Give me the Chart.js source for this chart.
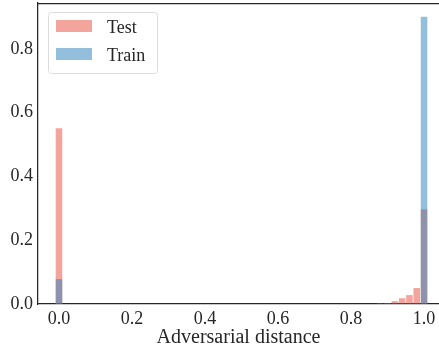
<!DOCTYPE html>
<html>
<head>
<meta charset="utf-8">
<script src="https://cdn.jsdelivr.net/npm/chart.js@4.4.1/dist/chart.umd.min.js"></script>
<style>
html,body{margin:0;padding:0;background:#fff;overflow:hidden;}
#c{display:block;}
</style>
</head>
<body>
<canvas id="c" width="439" height="350"></canvas>
<script>
// Histogram bins (bin centres, width 0.02); only non-empty bins listed
const binCenters = [0.00, 0.88, 0.90, 0.92, 0.94, 0.96, 0.98, 1.00];
const testValues = [0.551, 0.002, 0.003, 0.009, 0.018, 0.028, 0.050, 0.297];
const trainValues = [0.078, 0, 0, 0, 0, 0, 0, 0.901];
const xTickValues = [0.0, 0.2, 0.4, 0.6, 0.8, 1.0];
const yTickValues = [0.0, 0.2, 0.4, 0.6, 0.8];
const seriesNames = ['Test', 'Train'];
const xTitle = 'Adversarial distance';

const FONT = "'Liberation Serif', serif";
const TEXT = '#262626';
const testColor = 'rgba(231,76,60,0.5)';
const trainColor = 'rgba(41,128,185,0.5)';

const toPoints = vals => binCenters.map((x, i) => ({x: x, y: vals[i]}));

const frameAndLegend = {
  id: 'frameAndLegend',
  afterDraw(chart) {
    const ctx = chart.ctx, a = chart.chartArea;
    ctx.save();
    // top spine
    ctx.strokeStyle = TEXT;
    ctx.lineWidth = 1.25;
    ctx.beginPath();
    ctx.moveTo(a.left, a.top + 0.5);
    ctx.lineTo(a.right, a.top + 0.5);
    ctx.stroke();
    // legend box
    const bx = a.left + 10, by = a.top + 9, bw = 109, bh = 61;
    ctx.fillStyle = 'rgba(255,255,255,0.8)';
    ctx.strokeStyle = '#dcdcdc';
    ctx.lineWidth = 1;
    ctx.beginPath();
    ctx.roundRect(bx + 0.5, by + 0.5, bw, bh, 3);
    ctx.fill();
    ctx.stroke();
    ctx.font = "18px " + FONT;
    ctx.textBaseline = 'alphabetic';
    ctx.textAlign = 'left';
    chart.data.datasets.forEach((ds, i) => {
      const sy = by + 8 + i * 28;
      ctx.fillStyle = ds.backgroundColor;
      ctx.fillRect(bx + 8, sy, 36, 12);
      ctx.fillStyle = TEXT;
      ctx.fillText(ds.label, bx + 59, sy + 13);
    });
    ctx.restore();
  }
};

new Chart(document.getElementById('c'), {
  type: 'bar',
  data: {
    datasets: [
      {label: seriesNames[0], data: toPoints(testValues), backgroundColor: testColor, order: 2, grouped: false,
       barPercentage: 1.0, categoryPercentage: 0.9},
      {label: seriesNames[1], data: toPoints(trainValues), backgroundColor: trainColor, order: 1, grouped: false,
       barPercentage: 1.0, categoryPercentage: 0.9}
    ]
  },
  options: {
    responsive: false,
    animation: false,
    devicePixelRatio: 1,
    layout: {padding: {top: 3, right: 0, left: 0, bottom: 0}},
    plugins: {legend: {display: false}, tooltip: {enabled: false}},
    scales: {
      x: {
        type: 'linear',
        offset: false,
        min: -0.0575,
        max: 1.041,
        grid: {display: false, drawTicks: false, offset: false},
        border: {display: true, color: TEXT, width: 1.25},
        afterBuildTicks: s => { s.ticks = xTickValues.map(v => ({value: v})); },
        afterFit: s => { s.height = 46; s.paddingLeft = 0; s.paddingRight = 0; },
        ticks: {
          color: TEXT, padding: 4,
          font: {family: FONT, size: 18},
          callback: v => Number(v).toFixed(1)
        },
        title: {
          display: true, text: xTitle, color: TEXT,
          font: {family: FONT, size: 20},
          padding: {top: 0, bottom: 0}
        }
      },
      y: {
        type: 'linear',
        min: 0,
        max: 0.944,
        grid: {display: false, drawTicks: false},
        border: {display: true, color: TEXT, width: 1.25},
        afterBuildTicks: s => { s.ticks = yTickValues.map(v => ({value: v})); },
        afterFit: s => { s.width = 38; s.paddingTop = 0; s.paddingBottom = 0; },
        ticks: {
          color: TEXT, padding: 5,
          font: {family: FONT, size: 18},
          callback: v => Number(v).toFixed(1)
        }
      }
    }
  },
  plugins: [frameAndLegend]
});
</script>
</body>
</html>
